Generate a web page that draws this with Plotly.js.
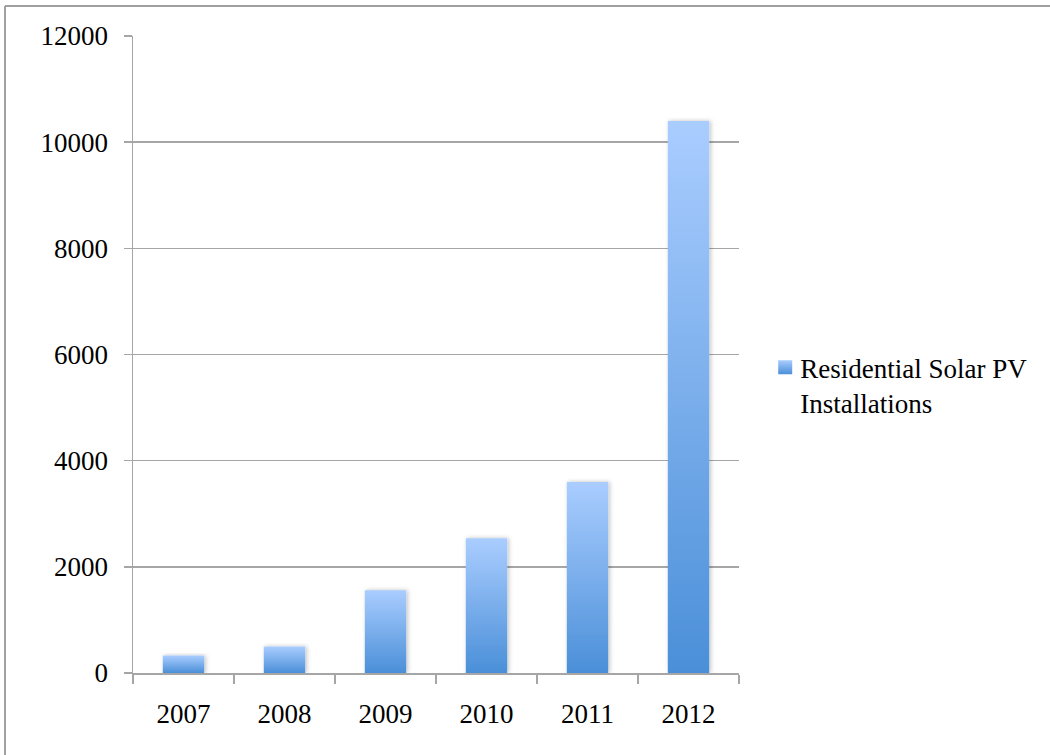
<!DOCTYPE html>
<html>
<head>
<meta charset="utf-8">
<script src="https://cdn.plot.ly/plotly-3.0.1.min.js"></script>
<style>
  html, body { margin: 0; padding: 0; background: #fff; }
  #chart { width: 1050px; height: 755px; }
</style>
</head>
<body>
<div id="chart"></div>
<script>
const years = ['2007', '2008', '2009', '2010', '2011', '2012'];
const installations = [330, 500, 1560, 2540, 3600, 10400];
const seriesName = 'Residential Solar PV<br>Installations';
const yTickValues = [0, 2000, 4000, 6000, 8000, 10000, 12000];

const FONT = 'Liberation Serif, Times New Roman, serif';
const GRID = '#a6a6a6';

const trace = {
  type: 'bar',
  x: years,
  y: installations,
  name: seriesName,
  marker: { color: '#7aaeea', line: { width: 0 } },
  showlegend: true,
  hoverinfo: 'x+y'
};

const layout = {
  width: 1050,
  height: 755,
  margin: { l: 133, r: 311, t: 36, b: 82, pad: 0 },
  paper_bgcolor: '#ffffff',
  plot_bgcolor: '#ffffff',
  font: { family: FONT, size: 27, color: '#000' },
  bargap: 0.59,
  showlegend: true,
  legend: {
    x: 1.035, xanchor: 'left',
    y: 0.452, yanchor: 'middle',
    valign: 'top',
    bgcolor: 'rgba(0,0,0,0)',
    borderwidth: 0,
    font: { family: FONT, size: 27, color: '#000' }
  },
  xaxis: {
    type: 'category',
    tickson: 'boundaries',
    ticks: 'outside',
    ticklen: 9,
    tickwidth: 1.5,
    tickcolor: GRID,
    showline: true,
    linecolor: GRID,
    linewidth: 1.5,
    showgrid: false,
    zeroline: false,
    ticklabelstandoff: 16,
    tickfont: { family: FONT, size: 27, color: '#000' }
  },
  yaxis: {
    range: [0, 12000],
    tickvals: yTickValues,
    ticktext: yTickValues.map(String),
    ticks: 'outside',
    ticklen: 8,
    tickwidth: 1.5,
    tickcolor: GRID,
    showline: true,
    linecolor: GRID,
    linewidth: 1.5,
    showgrid: true,
    gridcolor: GRID,
    gridwidth: 1.5,
    zeroline: false,
    ticklabelstandoff: 10,
    tickfont: { family: FONT, size: 27, color: '#000' }
  },
  shapes: [
    { type: 'line', xref: 'paper', yref: 'paper', x0: -0.2112, x1: -0.2112, y0: -0.3, y1: 1.0471,
      line: { color: '#a0a0a0', width: 2 } },
    { type: 'line', xref: 'paper', yref: 'paper', x0: -0.2112, x1: 1.8, y0: 1.0471, y1: 1.0471,
      line: { color: '#a0a0a0', width: 2 } }
  ]
};

Plotly.newPlot('chart', [trace], layout, { displayModeBar: false, staticPlot: true }).then(function (gd) {
  const svgNS = 'http://www.w3.org/2000/svg';
  const svg = gd.querySelector('.main-svg');
  let defs = svg.querySelector('defs');
  if (!defs) { defs = document.createElementNS(svgNS, 'defs'); svg.insertBefore(defs, svg.firstChild); }

  const grad = document.createElementNS(svgNS, 'linearGradient');
  grad.setAttribute('id', 'barGrad');
  grad.setAttribute('x1', '0'); grad.setAttribute('y1', '0');
  grad.setAttribute('x2', '0'); grad.setAttribute('y2', '1');
  [['0', '#aacdff'], ['1', '#4a8fd8']].forEach(function (s) {
    const st = document.createElementNS(svgNS, 'stop');
    st.setAttribute('offset', s[0]);
    st.setAttribute('stop-color', s[1]);
    grad.appendChild(st);
  });
  defs.appendChild(grad);

  const filt = document.createElementNS(svgNS, 'filter');
  filt.setAttribute('id', 'barShadow');
  filt.setAttribute('x', '-30%'); filt.setAttribute('y', '-10%');
  filt.setAttribute('width', '160%'); filt.setAttribute('height', '120%');
  const ds = document.createElementNS(svgNS, 'feDropShadow');
  ds.setAttribute('dx', '1.5'); ds.setAttribute('dy', '0');
  ds.setAttribute('stdDeviation', '2');
  ds.setAttribute('flood-color', '#000');
  ds.setAttribute('flood-opacity', '0.25');
  filt.appendChild(ds);
  defs.appendChild(filt);

  gd.querySelectorAll('.trace.bars .point path').forEach(function (p) {
    p.style.fill = 'url(#barGrad)';
    p.setAttribute('filter', 'url(#barShadow)');
  });
  gd.querySelectorAll('.legendpoints path').forEach(function (p) {
    p.setAttribute('d', 'M12,7H-2V-7H12Z');
    p.style.fill = 'url(#barGrad)';
  });
});
</script>
</body>
</html>
